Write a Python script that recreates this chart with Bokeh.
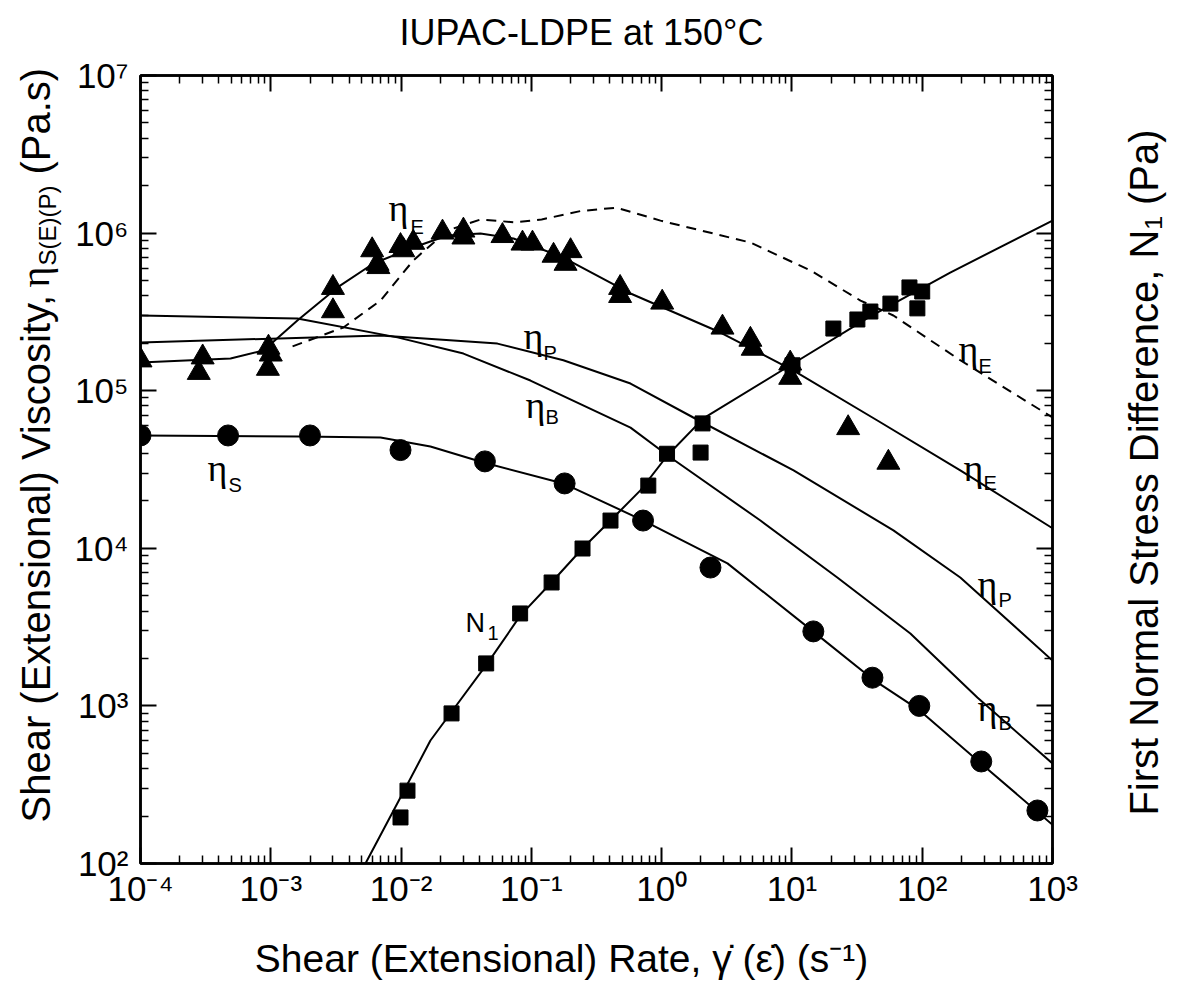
import math
from bokeh.plotting import figure
from bokeh.models import LogAxis, FixedTicker, CustomJSTickFormatter, Range1d
from bokeh.core.properties import value
from bokeh.embed import file_html
from bokeh.resources import INLINE

# ---------------- data ----------------
# Shear viscosity eta_S (circles) and model curve
rate_S = [1e-4, 4.7e-4, 2e-3, 0.0099, 0.044, 0.18, 0.72, 2.37, 14.6, 41.5, 95, 284, 766]
eta_S = [5.2e4, 5.2e4, 5.2e4, 4.2e4, 3.56e4, 2.58e4, 1.5e4, 7.55e3, 2.97e3, 1.51e3, 1.0e3, 444, 217]
fit_S_x = [1e-4, 1.69e-3, 6.95e-3, 0.0168, 0.0429, 0.176, 0.724, 3.20, 14.6, 41.5, 95.1, 284, 1000]
fit_S_y = [5.2e4, 5.12e4, 5.05e4, 4.43e4, 3.50e4, 2.58e4, 1.50e4, 8.02e3, 2.96e3, 1.48e3, 940, 430, 176]

# Extensional viscosity eta_E (triangles), model (solid) and dashed curve
rate_E = [1e-4, 3e-4, 2.8e-4, 9.6e-4, 1e-3, 9.5e-4, 3e-3, 3e-3, 6e-3, 6.6e-3, 6.7e-3,
          9.9e-3, 0.0124, 0.0104, 0.0208, 0.0301, 0.0301, 0.06, 0.0855, 0.102, 0.148,
          0.2, 0.183, 0.48, 0.48, 1.01, 2.93, 4.8, 5.0, 9.7, 9.7, 27, 55]
eta_E = [1.56e5, 1.63e5, 1.3e5, 1.88e5, 1.7e5, 1.38e5, 4.5e5, 3.2e5, 7.8e5, 6.4e5, 6.1e5,
         8.3e5, 8.7e5, 7.8e5, 1.01e6, 1.04e6, 9.4e5, 9.6e5, 8.6e5, 8.6e5, 7.2e5,
         7.7e5, 6.4e5, 4.5e5, 4.0e5, 3.63e5, 2.52e5, 2.11e5, 1.85e5, 1.49e5, 1.21e5, 5.8e4, 3.5e4]
fit_E_x = [1e-4, 4.91e-4, 8.79e-4, 1.6e-3, 3.25e-3, 6.14e-3, 0.0124, 0.0227, 0.0407,
           0.0729, 0.176, 0.577, 2.83, 10.3, 45.3, 196, 1000]
fit_E_y = [1.51e5, 1.60e5, 1.80e5, 2.79e5, 4.52e5, 6.41e5, 8.11e5, 9.66e5, 9.94e5,
           9.24e5, 7.0e5, 4.14e5, 2.34e5, 1.34e5, 6.47e4, 3.12e4, 1.34e4]
dash_E_x = [1.47e-3, 3.61e-3, 6.95e-3, 0.0124, 0.0227, 0.0407, 0.075, 0.12, 0.238,
            0.45, 0.98, 4.80, 13.9, 33.6, 60.1, 196, 1000]
dash_E_y = [1.91e5, 2.52e5, 3.73e5, 6.70e5, 1.04e6, 1.22e6, 1.17e6, 1.22e6, 1.38e6,
            1.45e6, 1.20e6, 8.71e5, 5.79e5, 3.73e5, 3.0e5, 1.56e5, 6.76e4]

# Biaxial (eta_B) and planar (eta_P) model curves
fit_B_x = [1e-4, 1.6e-3, 9.37e-3, 0.0301, 0.0984, 0.577, 1.17, 5.73, 22.3, 81.1, 265, 1000]
fit_B_y = [3.0e5, 2.87e5, 2.18e5, 1.72e5, 1.16e5, 5.83e4, 3.77e4, 1.50e4, 6.53e3, 2.88e3, 1.13e3, 431]
fit_P_x = [1e-4, 1e-3, 6.95e-3, 0.0549, 0.176, 0.577, 1.75, 10.3, 60.1, 196, 1000]
fit_P_y = [2.02e5, 2.14e5, 2.24e5, 1.99e5, 1.56e5, 1.11e5, 6.76e4, 3.12e4, 1.30e4, 6.53e3, 1.94e3]

# First normal stress difference N1 (squares) and model curve
rate_N1 = [0.0099, 0.0112, 0.0244, 0.045, 0.082, 0.143, 0.247, 0.405, 0.79, 1.1, 1.99, 2.06,
           10.1, 20.8, 31.8, 40, 57, 79.8, 100, 91.8]
N1 = [196, 290, 896, 1860, 3860, 6070, 9970, 1.5e4, 2.5e4, 3.98e4, 4.05e4, 6.2e4,
      1.45e5, 2.48e5, 2.83e5, 3.18e5, 3.57e5, 4.52e5, 4.26e5, 3.33e5]
fit_N1_x = [5.33e-3, 9.89e-3, 0.0168, 0.0239, 0.046, 0.0825, 0.1426, 0.2466, 0.405, 0.687,
            1.107, 2.09, 9.73, 40.0, 164, 1000]
fit_N1_y = [100, 262, 603, 895, 1.86e3, 3.75e3, 6.07e3, 9.97e3, 1.5e4, 2.33e4,
            3.88e4, 6.67e4, 1.45e5, 2.96e5, 5.62e5, 1.2e6]

x_decades = [10.0 ** k for k in range(-4, 4)]
y_decades = [10.0 ** k for k in range(2, 8)]

# ---------------- layout ----------------
FONT = "Liberation Sans"
SERIF = "Liberation Serif"
W, H = 1178, 986
BL, BR, BT, BB = 140, 126, 75, 123
FW, FH = W - BL - BR, H - BT - BB
XMIN, XMAX = 1e-4, 1e3
YMIN, YMAX = 1e2, 1e7

p = figure(width=W, height=H, x_axis_type="log", y_axis_type="log",
           x_range=Range1d(XMIN, XMAX), y_range=Range1d(YMIN, YMAX),
           output_backend="svg", toolbar_location=None,
           min_border_left=BL, min_border_right=BR, min_border_top=BT, min_border_bottom=BB)
p.title.visible = False
p.xgrid.visible = False
p.ygrid.visible = False
p.outline_line_color = "black"
p.outline_line_width = 2.5
p.background_fill_color = "white"
p.border_fill_color = "white"


def minors(decs):
    return [m * d for d in decs[:-1] for m in range(2, 10)]


SUP = CustomJSTickFormatter(code="""
const e = Math.round(Math.log10(tick));
const m = {'-':'\u207b','0':'\u2070','1':'\u00b9','2':'\u00b2','3':'\u00b3','4':'\u2074',
           '5':'\u2075','6':'\u2076','7':'\u2077','8':'\u2078','9':'\u2079'};
return '10' + String(e).split('').map(c => m[c]).join('');
""")


def style_axis(ax, decs, show):
    ax.ticker = FixedTicker(ticks=decs, minor_ticks=minors(decs))
    ax.major_tick_in = 16
    ax.major_tick_out = 0
    ax.minor_tick_in = 8
    ax.minor_tick_out = 0
    ax.major_tick_line_width = 2
    ax.minor_tick_line_width = 1.5
    ax.major_tick_line_color = "black"
    ax.minor_tick_line_color = "black"
    ax.axis_line_width = 2.5
    ax.axis_line_color = "black"
    ax.major_label_text_font = FONT
    ax.major_label_text_font_size = "35px"
    ax.major_label_text_color = "black"
    if show:
        ax.formatter = SUP
    else:
        ax.formatter = CustomJSTickFormatter(code="return '';")
        ax.major_label_text_font_size = "1px"


style_axis(p.xaxis[0], x_decades, True)
p.xaxis[0].major_label_standoff = 5
style_axis(p.yaxis[0], y_decades, True)
p.yaxis[0].major_label_standoff = 12

top_ax = LogAxis()
style_axis(top_ax, x_decades, False)
p.add_layout(top_ax, "above")
right_ax = LogAxis()
style_axis(right_ax, y_decades, False)
p.add_layout(right_ax, "right")

# ---------------- curves ----------------
LW = 2
p.line(fit_S_x, fit_S_y, line_color="black", line_width=LW)
p.line(fit_E_x, fit_E_y, line_color="black", line_width=LW)
p.line(dash_E_x, dash_E_y, line_color="black", line_width=LW, line_dash="10 7")
p.line(fit_B_x, fit_B_y, line_color="black", line_width=LW)
p.line(fit_P_x, fit_P_y, line_color="black", line_width=LW)
p.line(fit_N1_x, fit_N1_y, line_color="black", line_width=LW)

p.scatter(rate_S, eta_S, marker="circle", size=21, fill_color="black", line_color="black")
p.scatter(rate_E, eta_E, marker="triangle", size=23, fill_color="black", line_color="black")
p.scatter(rate_N1, N1, marker="square", size=15, fill_color="black", line_color="black")


# ---------------- texts ----------------
def px2data(px, py):
    lx0, lx1 = math.log10(XMIN), math.log10(XMAX)
    ly0, ly1 = math.log10(YMIN), math.log10(YMAX)
    lx = lx0 + (px - BL) / FW * (lx1 - lx0)
    ly = ly1 - (py - BT) / FH * (ly1 - ly0)
    return 10 ** lx, 10 ** ly


SHIFT = 0.37  # baseline correction observed in the svg output (fraction of font size)


def txt(px, py, s, size, font=FONT, align="left", vertical=False):
    # (px, py): wanted baseline position in canvas pixels
    if vertical:
        x, y = px2data(px - SHIFT * size, py)
        ang = math.pi / 2
    else:
        x, y = px2data(px, py - SHIFT * size)
        ang = 0.0
    p.text(x=[x], y=[y], text=[s], text_font=value(font), text_font_size=value(f"{size}px"),
           text_align=align, text_baseline="alphabetic", angle=ang, text_color="black",
           level="overlay")


def eta_label(px, py, sub, spx, spy):
    txt(px, py, "\u03b7", 38, SERIF)
    txt(spx, spy, sub, 20)


eta_label(388, 222, "E", 410, 234)
eta_label(523, 350, "P", 543, 360)
eta_label(525, 419, "B", 545, 424)
eta_label(207, 482, "S", 228, 492)
eta_label(958, 363, "E", 978, 373)
eta_label(963, 482, "E", 983, 490)
eta_label(977, 598, "P", 998, 607)
eta_label(977, 722, "B", 998, 730)
txt(465, 632, "N", 27)
txt(487, 640, "1", 20)

# titles (outside the frame)
txt(581, 45, "IUPAC-LDPE at 150\u00b0C", 36, align="center")
txt(561, 972, "Shear (Extensional) Rate, \u03b3\u0307 (\u03b5\u0307) (s\u207b\u00b9)", 39, align="center")
txt(1158, 472, "First Normal Stress Difference, N\u2081 (Pa)", 40, align="center", vertical=True)
txt(50, 822, "Shear (Extensional) Viscosity,", 40, align="left", vertical=True)
txt(50, 287, "\u03b7", 40, SERIF, align="left", vertical=True)
txt(56, 265, "S(E)(P)", 24, align="left", vertical=True)
txt(50, 174, "(Pa.s)", 40, align="left", vertical=True)

open("out.html", "w").write(file_html(p, INLINE))
